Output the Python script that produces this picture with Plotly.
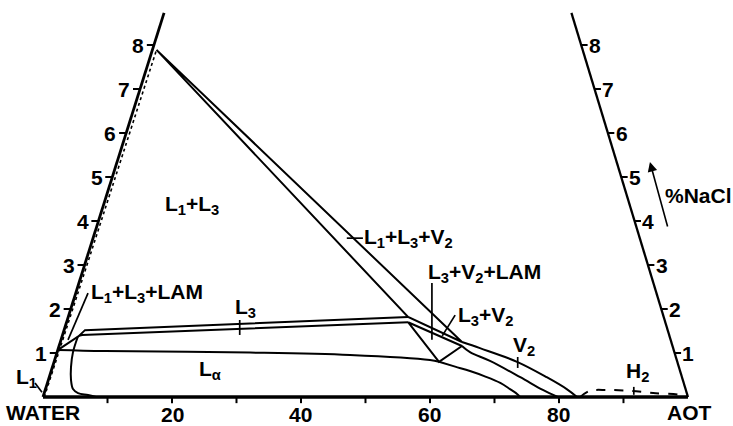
import plotly.graph_objects as go

# ---------------- data (x = AOT wt% position along base, y = NaCl wt%) ----------------
NACL_TICKS = [1, 2, 3, 4, 5, 6, 7, 8]
AOT_TICKS = [10, 20, 30, 40, 50, 60, 70, 80, 90]
AOT_TICK_LABELS = [20, 40, 60, 80]
LEFT_SKEW = 2.15      # left (water-NaCl) edge: aot shift per % NaCl
RIGHT_SKEW = 2.07     # right (AOT-NaCl) edge
AXIS_TOP_NACL = 8.73

L1_EDGE_AOT = [0.2, 17.6]
L1_EDGE_NACL = [0.0, 7.89]

TRI_L1L3V2_AOT = [17.6, 56.6, 64.96, 17.6]
TRI_L1L3V2_NACL = [7.89, 1.82, 1.25, 7.89]

TRI_L3V2LAM_AOT = [56.6, 64.96, 61.4, 56.6]
TRI_L3V2LAM_NACL = [1.70, 1.16, 0.80, 1.70]

L3_TOP_AOT = [5.58, 6.51, 56.6]
L3_TOP_NACL = [1.39, 1.52, 1.82]
L3_BOT_AOT = [2.33, 5.58, 6.05, 56.6]
L3_BOT_NACL = [1.07, 1.39, 1.41, 1.70]

LA_TOP_AOT = [2.33, 9.6, 32.1, 47.6, 60.0, 61.4]
LA_TOP_NACL = [1.07, 1.045, 1.01, 0.955, 0.84, 0.80]

LA_LEFT_AOT = [5.4, 4.65, 4.34, 4.34, 4.65, 5.43, 6.98, 8.2]
LA_LEFT_NACL = [1.37, 1.02, 0.68, 0.39, 0.18, 0.09, 0.045, 0.0]

LA_RIGHT_AOT = [61.4, 63.9, 66.2, 68.5, 70.9, 72.4, 73.5, 73.95]
LA_RIGHT_NACL = [0.80, 0.69, 0.59, 0.47, 0.32, 0.18, 0.07, 0.0]

V2_INNER_AOT = [64.96, 66.2, 69.3, 74.0, 77.5, 79.8]
V2_INNER_NACL = [1.16, 1.02, 0.82, 0.45, 0.16, 0.0]

V2_OUTER_AOT = [64.96, 67.75, 73.5, 78.1, 81.2, 82.8]
V2_OUTER_NACL = [1.25, 1.11, 0.80, 0.45, 0.18, 0.0]

H2_AOT = [83.3, 84.8, 87.4, 91.0, 94.6, 98.8, 100.0]
H2_NACL = [0.0, 0.14, 0.16, 0.14, 0.09, 0.05, 0.0]

LABEL_TEXTS = ["L<sub>1</sub>+L<sub>3</sub>", "L<sub>1</sub>+L<sub>3</sub>+V<sub>2</sub>",
               "L<sub>3</sub>+V<sub>2</sub>+LAM", "L<sub>3</sub>+V<sub>2</sub>", "V<sub>2</sub>",
               "H<sub>2</sub>", "L<sub>3</sub>", "L<sub>α</sub>", "L<sub>1</sub>+L<sub>3</sub>+LAM",
               "L<sub>1</sub>"]
LABEL_AOT = [18.6, 49.5, 59.4, 64.1, 72.6, 90.1, 29.4, 23.8, 7.2, -4.5]
LABEL_NACL = [4.375, 3.625, 2.81, 1.85, 1.17, 0.56, 2.03, 0.625, 2.375, 0.44]

# leader / pointer segments: (aot0, nacl0, aot1, nacl1)
LEADER_AOT0 = [47.1, 6.98, -1.24, 30.5, 60.3, 63.9, 73.6, 91.6]
LEADER_NACL0 = [3.61, 2.36, 0.32, 1.75, 2.59, 1.86, 0.91, 0.23]
LEADER_AOT1 = [49.6, 3.88, -0.16, 30.5, 60.3, 61.9, 73.6, 91.6]
LEADER_NACL1 = [3.61, 1.30, 0.11, 1.41, 1.30, 1.39, 0.66, 0.05]

FONT = "Liberation Sans, Arial, Helvetica, sans-serif"

fig = go.Figure()


def line(xs, ys, width=2.0, dash="solid", shape="linear"):
    fig.add_trace(go.Scatter(x=xs, y=ys, mode="lines",
                             line=dict(color="black", width=width, dash=dash, shape=shape),
                             hoverinfo="skip"))


# axes
line([0, LEFT_SKEW * AXIS_TOP_NACL], [0, AXIS_TOP_NACL], width=2.8)
line([100, 100 - RIGHT_SKEW * AXIS_TOP_NACL], [0, AXIS_TOP_NACL], width=2.3)
line([0, 100], [0, 0], width=3.4)

# axis ticks
tx, ty = [], []
for n in NACL_TICKS:
    x0 = LEFT_SKEW * n
    tx += [x0, x0 - 1.1, None]
    ty += [n, n, None]
    x1 = 100 - RIGHT_SKEW * n
    tx += [x1, x1 + 1.0, None]
    ty += [n, n, None]
for a in AOT_TICKS:
    tx += [a, a, None]
    ty += [0, -0.14, None]
line(tx, ty, width=2.0)

# phase boundaries
line(L1_EDGE_AOT, L1_EDGE_NACL, width=1.6, dash="dot")
line(TRI_L1L3V2_AOT, TRI_L1L3V2_NACL)
line(TRI_L3V2LAM_AOT, TRI_L3V2LAM_NACL)
line(L3_TOP_AOT, L3_TOP_NACL)
line(L3_BOT_AOT, L3_BOT_NACL)
line(LA_TOP_AOT, LA_TOP_NACL, shape="spline")
line(LA_LEFT_AOT, LA_LEFT_NACL, shape="spline")
line(LA_RIGHT_AOT, LA_RIGHT_NACL, shape="spline")
line(V2_INNER_AOT, V2_INNER_NACL, shape="spline")
line(V2_OUTER_AOT, V2_OUTER_NACL, shape="spline")
line(H2_AOT, H2_NACL, width=2.0, dash="dash", shape="spline")

# leaders
lx, ly = [], []
for a0, n0, a1, n1 in zip(LEADER_AOT0, LEADER_NACL0, LEADER_AOT1, LEADER_NACL1):
    lx += [a0, a1, None]
    ly += [n0, n1, None]
line(lx, ly, width=1.7)

ann = []
bf = dict(family=FONT, size=21, color="black")
for t, a, n in zip(LABEL_TEXTS, LABEL_AOT, LABEL_NACL):
    ann.append(dict(x=a, y=n, text="<b>%s</b>" % t, showarrow=False,
                    xanchor="left", yanchor="middle", font=bf))
for n in NACL_TICKS:
    ann.append(dict(x=LEFT_SKEW * n - 1.2, y=n, text="<b>%d</b>" % n, showarrow=False,
                    xanchor="right", yanchor="middle", font=bf))
    ann.append(dict(x=100 - RIGHT_SKEW * n + 0.9, y=n, text="<b>%d</b>" % n, showarrow=False,
                    xanchor="left", yanchor="middle", font=bf))
for a in AOT_TICK_LABELS:
    ann.append(dict(x=a, y=-0.40, text="<b>%d</b>" % a, showarrow=False,
                    xanchor="center", yanchor="middle", font=bf))
ann.append(dict(x=0, y=-0.35, text="<b>WATER</b>", showarrow=False,
                xanchor="center", yanchor="middle", font=bf))
ann.append(dict(x=100.3, y=-0.35, text="<b>AOT</b>", showarrow=False,
                xanchor="center", yanchor="middle", font=bf))
ann.append(dict(x=96.2, y=4.59, text="<b>%NaCl</b>", showarrow=False,
                xanchor="left", yanchor="middle", font=bf))
ann.append(dict(x=94.1, y=5.34, ax=96.9, ay=3.84, axref="x", ayref="y", xref="x", yref="y",
                text="", showarrow=True, arrowhead=2, arrowsize=1.2, arrowwidth=1.6,
                arrowcolor="black"))

fig.update_layout(
    width=733, height=426, margin=dict(l=0, r=0, t=0, b=0),
    paper_bgcolor="white", plot_bgcolor="white", showlegend=False,
    xaxis=dict(visible=False, range=[-6.667, 106.98]),
    yaxis=dict(visible=False, range=[-0.659, 9.023]),
    annotations=ann,
)
fig.write_html("out.html", config={"displayModeBar": False},
               post_script="document.body.style.margin='0px';document.body.style.padding='0px';")
